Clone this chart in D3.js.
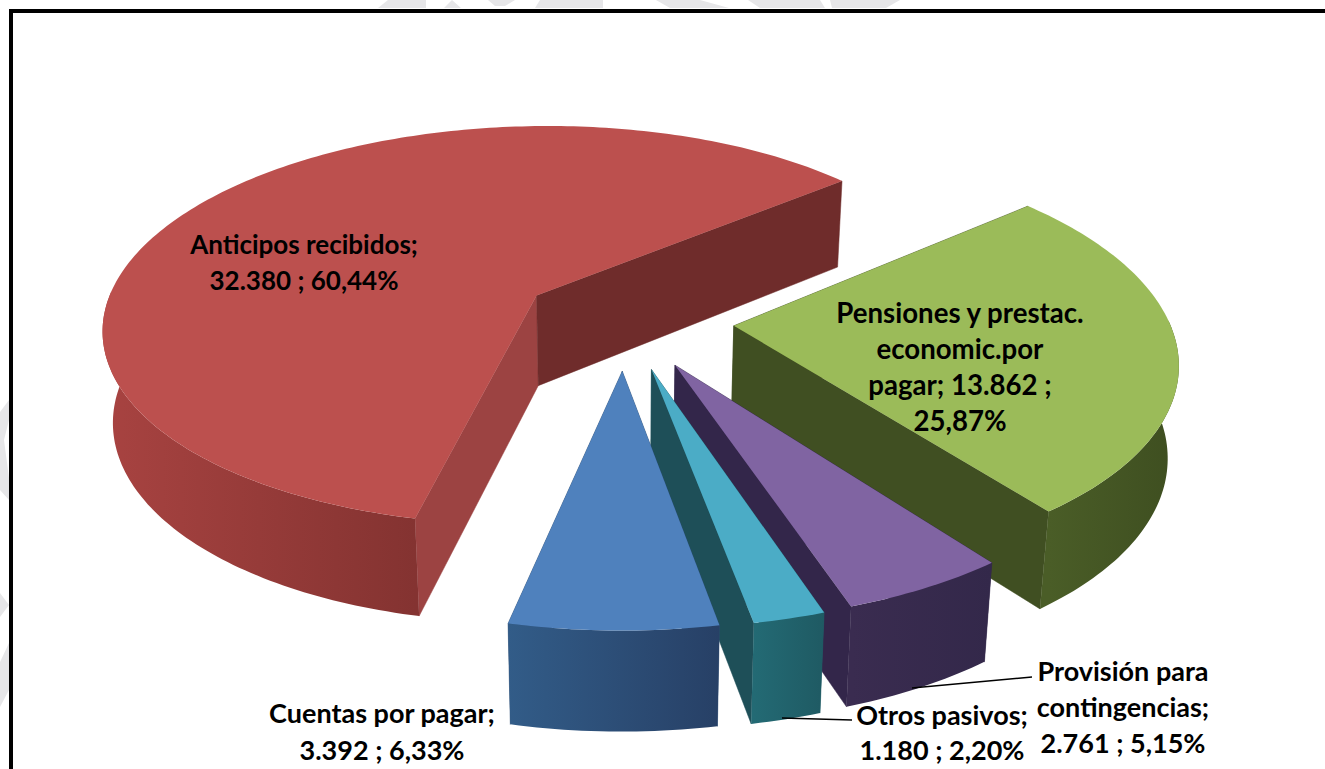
<!DOCTYPE html>
<html><head><meta charset="utf-8">
<script src="https://cdn.jsdelivr.net/npm/d3@7/dist/d3.min.js"></script>
<style>html,body{margin:0;padding:0;background:#fff;overflow:hidden}svg{display:block}</style>
</head><body><svg id="c" width="1325" height="769"></svg>
<script>
const categories = ["Anticipos recibidos","Pensiones y prestac. economic.por pagar","Provisión para contingencias","Otros pasivos","Cuentas por pagar"];
const values = [32380,13862,2761,1180,3392];
const explosion = [104,110,106,106,106];
const topColors = ["#BC504E","#9BBB59","#8064A2","#4BACC6","#4F81BD"];
const wallLight = ["#A84341","#4A5D27","#3A2C50","#236A74","#325C88"];
const wallDark = ["#843331","#3E4E20","#33284A","#1F5A63","#274066"];
const edgeNear = ["#6F2C2B","#404F22","#33264A","#1E4F58","#2A4C74"];
const edgeFar = ["#9C4342","#404F22","#33264A","#235E68","#2A4C74"];
const labelLines = [
  ["Anticipos recibidos;","32.380 ; 60,44%"],
  ["Pensiones y prestac.","economic.por","pagar; 13.862 ;","25,87%"],
  ["Provisión para","contingencias;","2.761 ; 5,15%"],
  ["Otros pasivos;","1.180 ; 2,20%"],
  ["Cuentas por pagar;","3.392 ; 6,33%"]
];
const labelAnchors = [[304,245],[960,314],[1123,672],[942,716],[382,714]];
const labelSizes = [26,27.6,27,27,27];
const lineHeight = [36,36,36,35,37];
const leaders = [[[1032,677],[912,688]],[[852,720],[782,718]]];
const watermark=[
 [[0,412],[9,400],[9,420],[4,440],[9,478],[9,500],[0,490]],
 [[0,593],[9,605],[0,617]],
 [[0,662],[9,643],[9,690],[0,707]],
 [[378,8],[388,0],[426,0],[426,8]],
 [[444,8],[452,0],[461,8]],
 [[488,0],[515,0],[505,6],[495,6]],
 [[535,8],[540,0],[603,0],[603,8]],
 [[656,0],[700,0],[729,8],[670,8]],
 [[748,0],[820,0],[825,8],[760,8]],
 [[832,8],[830,0],[900,0],[886,8]]
];

const svg = d3.select("#c");
const rad = d => d*Math.PI/180;
const start = rad(192.3);
const pie = d3.pie().sort(null).startAngle(start).endAngle(start+2*Math.PI);
const arcs = pie(values);

// perspective projection of the pie plane
const cx=624, cy=320, R=435, tilt=0.465, D=2850, H=91, converge=0.02, vanishX=620;
const proj=(u,v,h)=>{const s=D/(D-v);const k=h?1-converge:1;return [vanishX+(cx-vanishX+u*s)*k, cy+tilt*v*s+(h?h*Math.sqrt(s):0)];};
const pt=(a,r,ou,ov,h)=>proj(ou+r*Math.sin(a),ov-r*Math.cos(a),h);
const line=d3.line();

const defs=svg.append("defs");
svg.append("g").selectAll("path").data(watermark).join("path").attr("d",d=>line(d)+"Z").attr("fill","#e6e6e8");

arcs.forEach((d,i)=>{
  const mid=(d.startAngle+d.endAngle)/2, E=explosion[i];
  const ou=E*Math.sin(mid), ov=-E*Math.cos(mid);
  const n=Math.ceil((d.endAngle-d.startAngle)/rad(1));
  const as=d3.range(n+1).map(k=>d.startAngle+(d.endAngle-d.startAngle)*k/n);
  const front=as.filter(a=>Math.cos(a)<0.03);
  const outerTop=as.map(a=>pt(a,R,ou,ov,0));
  const frontTop=front.map(a=>pt(a,R,ou,ov,0));
  const frontBot=front.map(a=>pt(a,R,ou,ov,H));
  const apexT=proj(ou,ov,0), apexB=proj(ou,ov,H);
  const g=svg.append("g").attr("class","slice");
  const id="w"+i;
  const xe=d3.extent(frontTop,p=>p[0]);
  const gr=defs.append("linearGradient").attr("id",id).attr("gradientUnits","userSpaceOnUse")
    .attr("x1",xe[0]).attr("x2",xe[1]).attr("y1",0).attr("y2",0);
  gr.append("stop").attr("offset",0).attr("stop-color",wallLight[i]);
  gr.append("stop").attr("offset",1).attr("stop-color",wallDark[i]);
  // flat walls
  const wall=(a,col)=>{const t=pt(a,R,ou,ov,0),b=pt(a,R,ou,ov,H);
    g.append("path").attr("d",line([apexT,t,b,apexB])+"Z").attr("fill",col).attr("stroke",col).attr("stroke-width",.5);};
  wall(d.startAngle,edgeFar[i]);
  wall(d.endAngle,edgeNear[i]);
  // outer wall, the side facing the viewer
  g.append("path").attr("d",line(frontTop.concat(frontBot.slice().reverse()))+"Z").attr("fill",`url(#${id})`);
  // top
  g.append("path").attr("d",line([apexT].concat(outerTop))+"Z").attr("fill",topColors[i]);
});

// frame
svg.append("path").attr("d","M11,769V11H1325").attr("fill","none").attr("stroke","#000").attr("stroke-width",4);

// leaders
svg.append("g").selectAll("path").data(leaders).join("path").attr("d",d=>line(d)).attr("fill","none").attr("stroke","#000").attr("stroke-width",1.6);

// labels
const t=svg.append("g").attr("font-family","Lato, 'Open Sans', sans-serif").attr("font-weight",700).attr("fill","#000").attr("text-anchor","middle");
labelLines.forEach((ls,i)=>{
  ls.forEach((s,k)=>t.append("text").attr("font-size",labelSizes[i]).attr("x",labelAnchors[i][0]).attr("y",labelAnchors[i][1]+k*lineHeight[i]+9).text(s));
});
</script></body></html>
